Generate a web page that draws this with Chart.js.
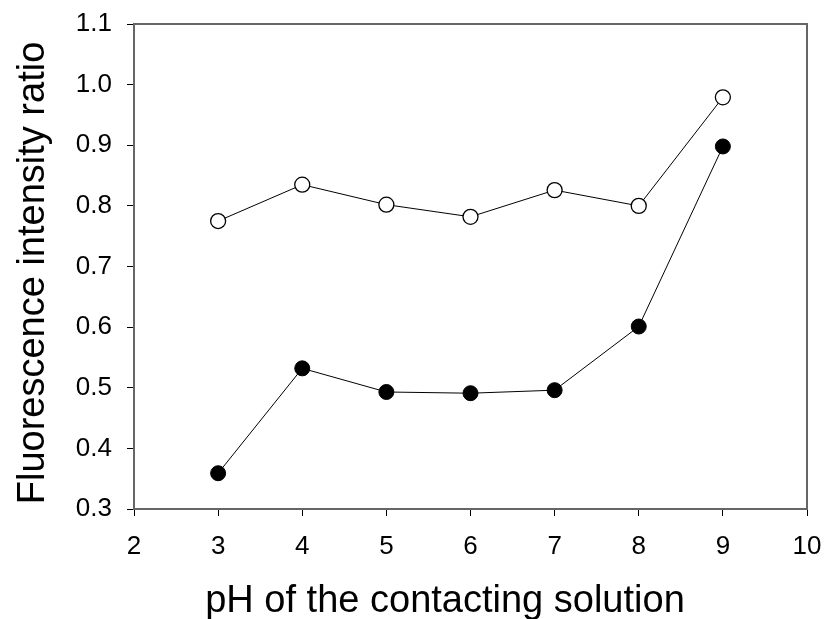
<!DOCTYPE html>
<html>
<head>
<meta charset="utf-8">
<script src="https://cdn.jsdelivr.net/npm/chart.js@4"></script>
<style>
  html, body { margin: 0; padding: 0; background: #fff; }
  #wrap { width: 826px; height: 619px; }
</style>
</head>
<body>
<div id="wrap"><canvas id="grafico" width="826" height="619"></canvas></div>
<script>
const phValores = [3, 4, 5, 6, 7, 8, 9];
const razaoAberta = [0.775, 0.835, 0.802, 0.782, 0.826, 0.800, 0.979];
const razaoCheia = [0.359, 0.532, 0.493, 0.491, 0.496, 0.601, 0.898];
const ticksX = [2, 3, 4, 5, 6, 7, 8, 9, 10];
const ticksY = [0.3, 0.4, 0.5, 0.6, 0.7, 0.8, 0.9, 1.0, 1.1];
const tituloX = 'pH of the contacting solution';
const tituloY = 'Fluorescence intensity ratio';

const corBorda = '#666666';
const fonteTitulo = '38px "Liberation Sans", Arial, sans-serif';

// moldura superior/direita + titulos dos eixos (deslocados como no original)
const moldura = {
  id: 'moldura',
  afterDraw(chart) {
    const { ctx, chartArea } = chart;
    ctx.save();
    ctx.strokeStyle = corBorda;
    ctx.lineWidth = 2;
    ctx.beginPath();
    ctx.moveTo(chartArea.left, chartArea.top);
    ctx.lineTo(chartArea.right, chartArea.top);
    ctx.lineTo(chartArea.right, chartArea.bottom);
    ctx.stroke();

    ctx.fillStyle = '#000';
    ctx.font = fonteTitulo;
    ctx.textAlign = 'center';
    ctx.textBaseline = 'alphabetic';
    ctx.fillText(tituloX, 445, 612);

    ctx.translate(44, 273);
    ctx.rotate(-Math.PI / 2);
    ctx.fillText(tituloY, 0, 0);
    ctx.restore();
  }
};

function pontos(valores) {
  return phValores.map((x, i) => ({ x: x, y: valores[i] }));
}

const grafico = new Chart(document.getElementById('grafico'), {
  type: 'line',
  data: {
    datasets: [{
      label: 'aberto',
      data: pontos(razaoAberta),
      borderColor: '#000',
      borderWidth: 1,
      backgroundColor: '#fff',
      pointBackgroundColor: '#fff',
      pointBorderColor: '#000',
      pointBorderWidth: 1.3,
      pointRadius: 7.5,
      tension: 0
    }, {
      label: 'cheio',
      data: pontos(razaoCheia),
      borderColor: '#000',
      borderWidth: 1,
      backgroundColor: '#000',
      pointBackgroundColor: '#000',
      pointBorderColor: '#000',
      pointBorderWidth: 1,
      pointRadius: 7.5,
      tension: 0
    }]
  },
  options: {
    responsive: false,
    animation: false,
    layout: { padding: { left: 0, top: 24, right: 19, bottom: 0 } },
    plugins: { legend: { display: false }, tooltip: { enabled: false } },
    scales: {
      x: {
        type: 'linear',
        min: 2,
        max: 10,
        afterBuildTicks: (escala) => { escala.ticks = ticksX.map(v => ({ value: v })); },
        afterFit: (escala) => {
          escala.height = 110;
          escala.paddingLeft = 0;
          escala.paddingRight = 0;
        },
        grid: { drawOnChartArea: false, drawTicks: true, tickLength: 7, color: '#000' },
        border: { display: true, color: corBorda, width: 2 },
        ticks: {
          color: '#000',
          padding: 15,
          maxRotation: 0,
          font: { family: 'Liberation Sans', size: 26 }
        },
        title: { display: false }
      },
      y: {
        type: 'linear',
        min: 0.3,
        max: 1.1,
        afterBuildTicks: (escala) => { escala.ticks = ticksY.map(v => ({ value: v })); },
        afterFit: (escala) => {
          escala.width = 134;
          escala.paddingTop = 0;
          escala.paddingBottom = 0;
        },
        grid: { drawOnChartArea: false, drawTicks: true, tickLength: 7, color: '#000' },
        border: { display: true, color: corBorda, width: 2 },
        ticks: {
          color: '#000',
          padding: 15,
          font: { family: 'Liberation Sans', size: 26 },
          callback: (v) => v.toFixed(1)
        },
        title: { display: false }
      }
    }
  },
  plugins: [moldura]
});
</script>
</body>
</html>
